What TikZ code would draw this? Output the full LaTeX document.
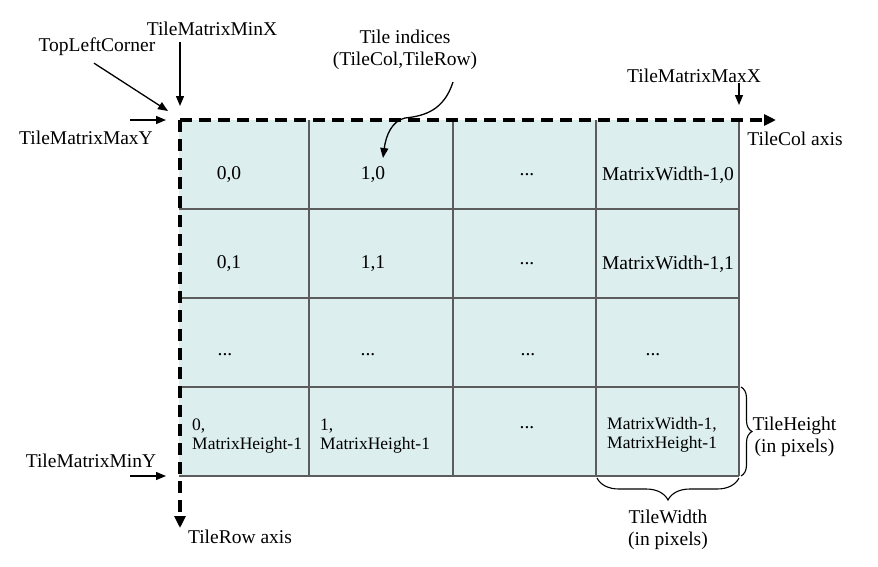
\documentclass[tikz,border=0pt]{standalone}
\usepackage{fontspec}
\setmainfont{Liberation Serif}
\usetikzlibrary{arrows.meta,decorations.pathreplacing}
\definecolor{tilefill}{HTML}{DCEEEE}
\definecolor{tilegrid}{HTML}{5C5C5C}
\tikzset{
    lbl/.style={font=\fontsize{19.5}{22}\selectfont, inner sep=1pt},
    twoline/.style={font=\fontsize{17.5}{19.5}\selectfont, inner sep=1pt, align=left, anchor=west},
    ptr/.style={line width=1.3pt, -{Triangle[length=10pt,width=8pt]}},
    tileaxis/.style={line width=3.5pt, dash pattern=on 12pt off 7pt, -{Triangle[length=12pt,width=11pt]}},
    gridline/.style={tilegrid, line width=1.8pt},
    tbrace/.style={decorate, line width=1.1pt}
}
\begin{document}
\begin{tikzpicture}[x=1pt,y=-1pt]
    \useasboundingbox (0,0) rectangle (878,566);

    % Tile matrix
    \fill[tilefill] (179,120) rectangle (739,476);
    \foreach \x in {309,453,596,739} {
        \draw[gridline] (\x,120) -- (\x,476);
    }
    \foreach \y in {209,298,387,476} {
        \draw[gridline] (179,\y) -- (739,\y);
    }

    % Tile indices
    \node[lbl] (c00) at (229,175) {0,0};
    \node[lbl] (c10) at (373,175) {1,0};
    \node[lbl] (c20) at (527,175) {...};
    \node[lbl] (c30) at (668,175) {MatrixWidth-1,0};
    \node[lbl] (c01) at (229,264) {0,1};
    \node[lbl] (c11) at (373,264) {1,1};
    \node[lbl] (c21) at (527,264) {...};
    \node[lbl] (c31) at (668,264) {MatrixWidth-1,1};
    \node[lbl] (c02) at (225,355) {...};
    \node[lbl] (c12) at (368,355) {...};
    \node[lbl] (c22) at (528,355) {...};
    \node[lbl] (c32) at (653,355) {...};
    \node[twoline] (c03) at (191,436) {0,\\MatrixHeight-1};
    \node[twoline] (c13) at (319,436) {1,\\MatrixHeight-1};
    \node[lbl] (c23) at (527,428) {...};
    \node[twoline] (c33) at (606,435) {MatrixWidth-1,\\MatrixHeight-1};

    % Axes
    \coordinate (origin) at (180,120);
    \coordinate (colend) at (776,120);
    \coordinate (rowend) at (180,528);
    \draw[tileaxis] (origin) -- (colend);
    \draw[tileaxis] (origin) -- (rowend);
    \node[lbl] (collab) at (795,139) {TileCol axis};
    \node[lbl] (rowlab) at (240,537) {TileRow axis};

    % Corner labels
    \node[lbl] (minxlab) at (212,29) {TileMatrixMinX};
    \coordinate (minxtip) at (180,106);
    \draw[ptr] (minxlab.south -| minxtip) ++(0,5) -- (minxtip);
    \node[lbl] (tlclab) at (97,47) {TopLeftCorner};
    \coordinate (tlctip) at (168,111);
    \draw[ptr] ([xshift=-3pt,yshift=-6pt]tlclab.south) -- (tlctip);
    \node[lbl] (maxylab) at (86,138) {TileMatrixMaxY};
    \coordinate (maxytip) at (166,120);
    \draw[ptr] ([xshift=-36pt]maxytip) -- (maxytip);
    \node[lbl] (minylab) at (91,461) {TileMatrixMinY};
    \coordinate (minytip) at (166,476);
    \draw[ptr] ([xshift=-36pt]minytip) -- (minytip);
    \node[lbl] (maxxlab) at (694,76) {TileMatrixMaxX};
    \coordinate (maxxtip) at (739,105);
    \draw[ptr] ([yshift=22pt]maxxtip) -- (maxxtip);

    % Tile indices callout
    \node[lbl, align=center] (idxlab) at (405,50) {Tile indices\\(TileCol,TileRow)};
    \coordinate (idxfrom) at (453,82);
    \coordinate (idxtip) at (383,158);
    \draw[ptr] (idxfrom) .. controls (444,110) and (425,116) .. (405,118)
        .. controls (392,121) and (386,135) .. (idxtip);

    % Tile size braces
    \draw[tbrace, decoration={brace, amplitude=11pt}] (741,387) -- (741,476)
        node[lbl, midway, right=10pt, yshift=-5pt, align=center] (hlab) {TileHeight\\(in pixels)};
    \draw[tbrace, decoration={brace, amplitude=22pt}] (739,478) -- (597,478)
        node[lbl, midway, below=30pt, align=center] (wlab) {TileWidth\\(in pixels)};
\end{tikzpicture}
\end{document}
